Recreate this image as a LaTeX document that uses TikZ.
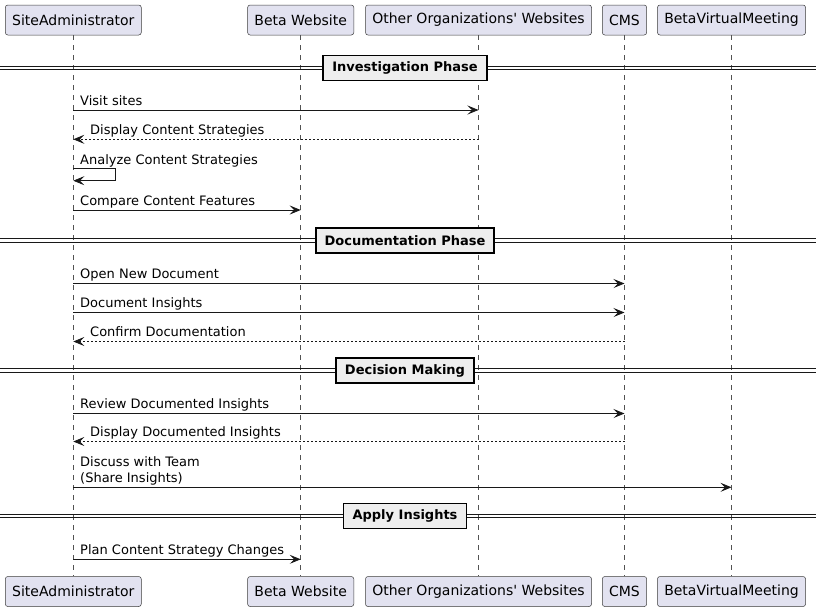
\documentclass[tikz,border=0pt]{standalone}
\usepackage{fontspec}
\setmainfont{DejaVu Sans}
\usetikzlibrary{arrows.meta}
\definecolor{pfill}{HTML}{E2E2F0}
\definecolor{ink}{HTML}{181818}
\definecolor{divfill}{HTML}{EEEEEE}
\tikzset{
  part/.style={draw=ink!85, fill=pfill, rounded corners=2.5pt, minimum height=30pt,
    inner xsep=6.8pt, inner ysep=0pt, font=\fontsize{14}{16}\selectfont, line width=0.5pt},
  life/.style={draw=ink!75, line width=0.5pt, dash pattern=on 5pt off 5pt},
  msg/.style={draw=ink, line width=0.8pt, -{Stealth[length=11pt,width=9pt,inset=4.5pt]}},
  ret/.style={msg, dash pattern=on 2pt off 2pt},
  lbl/.style={font=\fontsize{13}{15.5}\selectfont, inner sep=0pt, anchor=base west, text=black},
  dline/.style={draw=ink, line width=0.8pt},
  divbox/.style={draw=black, fill=divfill, line width=1.8pt, minimum height=25pt,
    inner xsep=9pt, inner ysep=0pt, font=\fontsize{13}{15}\selectfont\bfseries}
}
\begin{document}
\begin{tikzpicture}[x=1pt,y=-1pt]
\useasboundingbox (0,0) rectangle (816,611);
% participants
\node[part] (saT) at (73.3,20) {SiteAdministrator};
\node[part] (bwT) at (300.7,20) {Beta Website};
\node[part] (ooT) at (478.5,20) {Other Organizations\textquotesingle\ Websites};
\node[part] (cmT) at (624.5,20) {CMS};
\node[part] (bvT) at (731.5,20) {BetaVirtualMeeting};
\node[part] (saB) at (73.3,591.5) {SiteAdministrator};
\node[part] (bwB) at (300.7,591.5) {Beta Website};
\node[part] (ooB) at (478.5,591.5) {Other Organizations\textquotesingle\ Websites};
\node[part] (cmB) at (624.5,591.5) {CMS};
\node[part] (bvB) at (731.5,591.5) {BetaVirtualMeeting};
% lifelines
\foreach \p in {sa,bw,oo,cm,bv}{
  \draw[life] (\p T.south) -- (\p B.north);
}
% dividers
\foreach \yc/\name/\txt in {68/d1/Investigation Phase, 240.5/d2/Documentation Phase, 370.5/d3/Decision Making, 516/d4/Apply Insights}{
  \draw[dline] (0,\yc-1.7) -- (816,\yc-1.7);
  \draw[dline] (0,\yc+1.7) -- (816,\yc+1.7);
  \node[divbox] (\name) at (405,\yc) {\txt};
}
% messages
\draw[msg] (saT |- 0,110) -- (ooT |- 0,110);
\node[lbl] (l1) at (80,105) {Visit sites};
\draw[ret] (ooT |- 0,139.3) -- (saT |- 0,139.3);
\node[lbl] (l2) at (90,134.3) {Display Content Strategies};
\draw[msg] (saT |- 0,168.3) -- (115.3,168.3) -- (115.3,180.7) -- (saT |- 0,180.7);
\node[lbl] (l3) at (80,164) {Analyze Content Strategies};
\draw[msg] (saT |- 0,210) -- (bwT |- 0,210);
\node[lbl] (l4) at (80,205) {Compare Content Features};
\draw[msg] (saT |- 0,283.5) -- (cmT |- 0,283.5);
\node[lbl] (l5) at (80,278.5) {Open New Document};
\draw[msg] (saT |- 0,312.5) -- (cmT |- 0,312.5);
\node[lbl] (l6) at (80,307.5) {Document Insights};
\draw[ret] (cmT |- 0,341.5) -- (saT |- 0,341.5);
\node[lbl] (l7) at (90,336.5) {Confirm Documentation};
\draw[msg] (saT |- 0,413.5) -- (cmT |- 0,413.5);
\node[lbl] (l8) at (80,408.5) {Review Documented Insights};
\draw[ret] (cmT |- 0,441.5) -- (saT |- 0,441.5);
\node[lbl] (l9) at (90,436.5) {Display Documented Insights};
\draw[msg] (saT |- 0,487.3) -- (bvT |- 0,487.3);
\node[lbl, align=left] (l10) at (80,482) {Discuss with Team\\(Share Insights)};
\draw[msg] (saT |- 0,559.3) -- (bwT |- 0,559.3);
\node[lbl] (l11) at (80,554.3) {Plan Content Strategy Changes};
\end{tikzpicture}
\end{document}
